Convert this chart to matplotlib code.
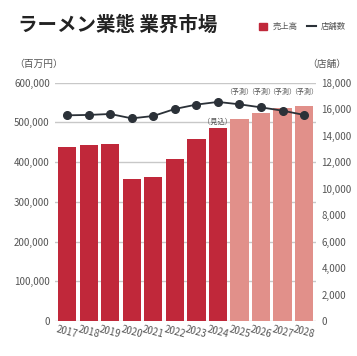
import numpy as np
import matplotlib
matplotlib.use("Agg")
from matplotlib import pyplot as plt
from matplotlib.patches import Patch
from matplotlib.lines import Line2D

plt.rcParams['font.family'] = ['Noto Sans CJK JP', 'DejaVu Sans']

years = ['2017', '2018', '2019', '2020', '2021', '2022', '2023', '2024',
         '2025', '2026', '2027', '2028']
sales = [439000, 442500, 446500, 357000, 363500, 407000, 458000, 485000,
         508000, 523000, 535000, 541000]
stores = [15530, 15560, 15630, 15300, 15480, 16010, 16340, 16540,
          16360, 16130, 15880, 15560]
notes = ['', '', '', '', '', '', '', '（見込）', '（予測）', '（予測）', '（予測）', '（予測）']

dark_red = '#c0283a'
light_red = '#e1908a'
line_col = '#2b3138'
grid_col = '#c8c8c8'
txt_col = '#555555'

fig = plt.figure(figsize=(3.57, 3.56), dpi=100)
ax = fig.add_axes([0.155, 0.098, 0.73, 0.67])
ax2 = ax.twinx()

x = np.arange(len(years))
colors = [dark_red if n in ('', '（見込）') else light_red for n in notes]
ax.bar(x, sales, width=0.85, color=colors, zorder=2)
ax.set_ylim(0, 600000)
ax.set_yticks(np.arange(0, 600001, 100000))
ax.set_yticklabels([f'{v:,}' for v in range(0, 600001, 100000)])
ax.set_xlim(-0.55, len(years) - 0.45)
ax.set_xticks(x)
ax.set_xticklabels(years, rotation=-15, ha='center')
ax.grid(axis='y', color=grid_col, linewidth=1, zorder=0)
ax.set_axisbelow(True)

ax2.plot(x, stores, color=line_col, marker='o', markersize=5.5, linewidth=1.3, zorder=5)
ax2.set_ylim(0, 18000)
ax2.set_yticks(np.arange(0, 18001, 2000))
ax2.set_yticklabels([f'{v:,}' for v in range(0, 18001, 2000)])

for a in (ax, ax2):
    for s in a.spines.values():
        s.set_visible(False)
    a.tick_params(length=0, labelsize=7, colors=txt_col, pad=4)
ax.tick_params(axis='x', pad=2)

for i, n in enumerate(notes):
    if n == '（見込）':
        ax.text(x[i], sales[i] + 6000, n, ha='center', va='bottom', fontsize=5.2, color=txt_col)
    elif n:
        ax2.text(x[i], 17000, n, ha='center', va='bottom', fontsize=5.0, color=txt_col)

fig.text(0.05, 0.93, 'ラーメン業態 業界市場', fontsize=14, fontweight='bold', color='#222222', va='center')
fig.text(0.04, 0.82, '（百万円）', fontsize=7, color=txt_col, va='center')
fig.text(0.97, 0.82, '（店舗）', fontsize=7, color=txt_col, va='center', ha='right')

handles = [Patch(color=dark_red), Line2D([], [], color=line_col, linewidth=1.5)]
fig.legend(handles, ['売上高', '店舗数'], loc='center right', bbox_to_anchor=(0.99, 0.925),
           ncol=2, frameon=False, fontsize=6, handlelength=1.0, handleheight=1.0,
           columnspacing=1.2, handletextpad=0.6, labelcolor=txt_col)

fig.savefig('out.png', dpi=100, facecolor='white')
